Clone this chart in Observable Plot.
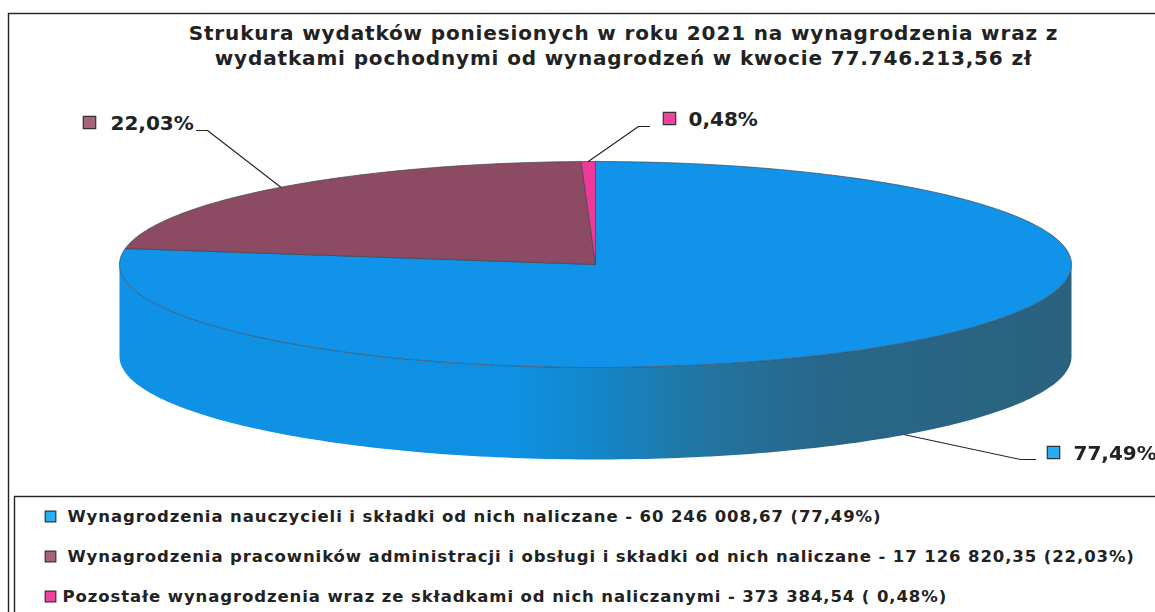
<!DOCTYPE html>
<html lang="pl">
<head>
<meta charset="utf-8">
<script src="https://cdn.jsdelivr.net/npm/d3@7"></script>
<script src="https://cdn.jsdelivr.net/npm/@observablehq/plot@0.6"></script>
<style>
html,body{margin:0;padding:0;background:#fff;overflow:hidden;width:1155px;height:612px}
svg{display:block;filter:blur(0.35px)}
.title text{letter-spacing:0.85px}
.legendrow text{letter-spacing:0.9px}
</style>
</head>
<body>
<div id="chart"></div>
<script>
const titleLines = [
  "Strukura wydatków poniesionych w roku 2021 na wynagrodzenia wraz z",
  "wydatkami pochodnymi od wynagrodzeń w kwocie 77.746.213,56 zł"
];
const categories = ["nauczyciele", "administracja i obsługa", "pozostałe"];
const amounts = [60246008.67, 17126820.35, 373384.54];
const percentLabels = ["77,49%", "22,03%", "0,48%"];
const legendLabels = [
  "Wynagrodzenia nauczycieli i składki od nich naliczane - 60 246 008,67 (77,49%)",
  "Wynagrodzenia pracowników administracji i obsługi i składki od nich naliczane - 17 126 820,35 (22,03%)",
  "Pozostałe wynagrodzenia wraz ze składkami od nich naliczanymi - 373 384,54 ( 0,48%)"
];
const topColors = ["#1093e8", "#8d4b63", "#f0389a"];
const swatchColors = ["#25aef2", "#a5647c", "#f2429f"];

// Layout of the tilted pie on the page
const W = 1155, H = 612;
const cx = 595, cy = 264, rx = 476, ry = 103, depthPx = 92;
const depth = depthPx / ry;               // in pie units
const toU = px => (px - cx) / rx;
const toV = py => (cy - py) / ry;

// Slices, clockwise from 12 o'clock
const total = d3.sum(amounts);
let acc = 0;
const slices = amounts.map((v, i) => {
  const a0 = acc / total * 2 * Math.PI;
  acc += v;
  const a1 = acc / total * 2 * Math.PI;
  return {name: categories[i], i, a0, a1, mid: (a0 + a1) / 2};
});
const pt = (a, drop = 0) => ({u: Math.sin(a), v: Math.cos(a) - drop});
const arc = (a0, a1, drop = 0) => {
  const n = Math.max(2, Math.ceil((a1 - a0) / (Math.PI / 180)));
  return d3.range(n + 1).map(k => pt(a0 + (a1 - a0) * k / n, drop));
};

const topRows = slices.flatMap(s =>
  [{u: 0, v: 0}, ...arc(s.a0, s.a1), {u: 0, v: 0}].map(p => ({...p, name: s.name}))
);
const sideRows = [...arc(Math.PI / 2, 3 * Math.PI / 2), ...arc(Math.PI / 2, 3 * Math.PI / 2, depth).reverse()];

// Leader lines: from each slice's rim to its label
const leaderEnds = [
  [[1020, 459], [1035, 459]],
  [[207, 130], [196, 130]],
  [[638, 126], [649, 126]]
];
const leaderRows = slices.flatMap((s, i) => {
  const start = pt(s.mid, i === 0 ? depth : 0);
  return [start, ...leaderEnds[i].map(([x, y]) => ({u: toU(x), v: toV(y)}))].map(p => ({...p, name: s.name}));
});

const gradient = () => {
  const defs = d3.create("svg:defs");
  const g = defs.append("linearGradient").attr("id", "sideGrad")
    .attr("x1", 0).attr("x2", 1).attr("y1", 0).attr("y2", 0);
  [[0, "#0f92e6"], [0.42, "#0f90e2"], [0.5, "#1486c8"], [0.62, "#23749f"], [0.74, "#28678a"], [1, "#2a627e"]]
    .forEach(([o, c]) => g.append("stop").attr("offset", o).attr("stop-color", c));
  return defs.node();
};

const textStyle = {fontFamily: "'DejaVu Sans', sans-serif", fontWeight: "bold", fill: "#222", lineAnchor: "middle", stroke: "none"};
const swatch = (x, y, i, r) => Plot.dot([0], {
  frameAnchor: "top-left", dx: x, dy: y, symbol: "square", r,
  fill: swatchColors[i], stroke: "#333", strokeWidth: 1.2
});

const pieLabels = [
  {text: percentLabels[0], sx: 1053, sy: 452, tx: 1073, ty: 453},
  {text: percentLabels[1], sx: 89, sy: 122, tx: 110, ty: 123},
  {text: percentLabels[2], sx: 669, sy: 118, tx: 688, ty: 119}
];
const legendRows = [
  {tx: 67, y: 516},
  {tx: 67, y: 556},
  {tx: 62, y: 596}
];

const chart = Plot.plot({
  width: W, height: H,
  margin: 0,
  style: {background: "#fff", overflow: "visible"},
  x: {domain: [-1, 1], range: [cx - rx, cx + rx], axis: null},
  y: {domain: [-1, 1], range: [cy + ry, cy - ry], axis: null},
  color: {domain: categories, range: topColors},
  marks: [
    gradient,
    Plot.frame({insetLeft: 8, insetTop: 13, insetRight: -6, insetBottom: -6, stroke: "#222", strokeWidth: 1.4}),
    Plot.frame({insetLeft: 14, insetTop: 496, insetRight: -6, insetBottom: -6, stroke: "#222", strokeWidth: 1.4}),
    Plot.line(sideRows, {x: "u", y: "v", fill: "url(#sideGrad)", stroke: "none"}),
    Plot.line(topRows, {x: "u", y: "v", z: "name", fill: "name", stroke: "#3d4650", strokeWidth: 0.7, strokeLinejoin: "round"}),
    Plot.line(leaderRows, {x: "u", y: "v", z: "name", stroke: "#222", strokeWidth: 1.1}),
    ...titleLines.map((t, i) => Plot.text([t], {
      ...textStyle, text: d => d, frameAnchor: "top", dx: 623 - W / 2, dy: 33 + i * 25, fontSize: 20, className: "title"
    })),
    ...pieLabels.flatMap((l, i) => [
      swatch(l.sx, l.sy, i, 7),
      Plot.text([l.text], {...textStyle, text: d => d, frameAnchor: "top-left", textAnchor: "start", dx: l.tx, dy: l.ty, fontSize: 20})
    ]),
    ...legendRows.flatMap((l, i) => [
      swatch(50, l.y, i, 6),
      Plot.text([legendLabels[i]], {...textStyle, text: d => d, frameAnchor: "top-left", textAnchor: "start", dx: l.tx, dy: l.y, fontSize: 16.5, className: "legendrow"})
    ])
  ]
});
document.getElementById("chart").append(chart);
</script>
</body>
</html>
